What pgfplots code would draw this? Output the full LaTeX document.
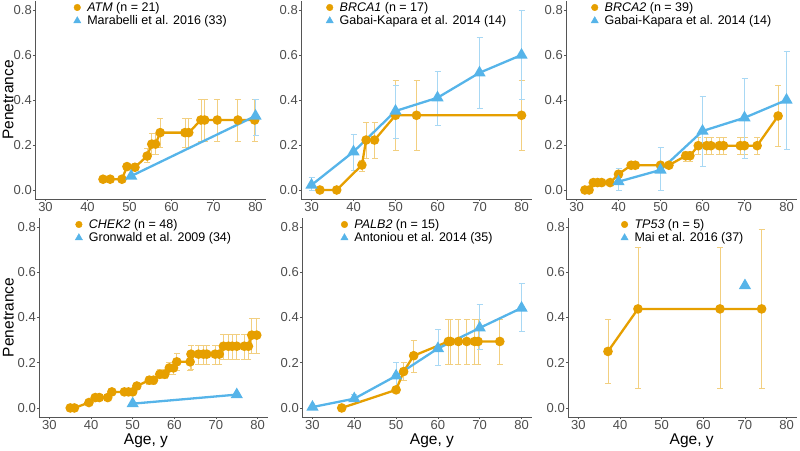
\documentclass[border=0pt]{standalone}
\usepackage{pgfplots}
\usepackage{pgfplotstable}
\pgfplotsset{compat=1.18}
\usepackage{fontspec}
\setmainfont{Liberation Sans}
\definecolor{cor}{HTML}{E69F00}
\definecolor{cbl}{HTML}{56B4E9}
\definecolor{corl}{HTML}{F2CF80}
\definecolor{cbll}{HTML}{A8D8F4}
\definecolor{tickgray}{HTML}{4D4D4D}
\definecolor{axgray}{HTML}{555555}

% ---------- data: x  y  lo  hi ----------
\pgfplotstableread{
x y lo hi
43.7 0.048 0.040 0.058
45.4 0.048 0.040 0.058
48.2 0.048 0.040 0.058
49.4 0.104 0.090 0.118
51.3 0.101 0.090 0.118
54.2 0.151 0.122 0.185
55.3 0.204 0.156 0.252
56.2 0.204 0.156 0.252
57.3 0.255 0.188 0.319
63.2 0.255 0.188 0.319
64.1 0.255 0.188 0.319
67.0 0.311 0.215 0.403
67.9 0.311 0.215 0.403
70.9 0.311 0.218 0.403
75.8 0.311 0.218 0.403
79.8 0.311 0.218 0.403
}\atmO
\pgfplotstableread{
x y lo hi
50.4 0.062 0.062 0.062
80 0.329 0.244 0.403
}\atmB
\pgfplotstableread{
x y lo hi
32 0 0 0
36 0 0 0
42 0.111 0.081 0.133
43 0.222 0.140 0.300
45 0.222 0.140 0.300
50 0.332 0.178 0.486
55 0.332 0.178 0.486
80 0.332 0.178 0.486
}\brOneO
\pgfplotstableread{
x y lo hi
30 0.022 0.000 0.055
40 0.170 0.089 0.247
50 0.351 0.230 0.467
60 0.410 0.289 0.529
70 0.521 0.363 0.677
80 0.600 0.403 0.797
}\brOneB
\pgfplotstableread{
x y lo hi
32 0 0 0
33 0 0 0
34 0.033 0.028 0.038
35 0.033 0.028 0.038
36 0.033 0.028 0.038
38 0.033 0.028 0.038
40 0.070 0.055 0.085
43 0.110 0.100 0.120
44 0.110 0.100 0.120
50 0.110 0.100 0.120
52 0.110 0.100 0.120
56 0.152 0.128 0.172
57 0.152 0.128 0.172
59 0.197 0.160 0.232
61 0.197 0.160 0.232
62 0.197 0.160 0.232
64 0.197 0.160 0.232
65 0.197 0.160 0.232
69 0.197 0.160 0.232
70 0.197 0.160 0.232
73 0.197 0.160 0.232
78 0.329 0.194 0.467
}\brTwoO
\pgfplotstableread{
x y lo hi
40 0.037 0.000 0.096
50 0.089 0.000 0.188
60 0.262 0.104 0.418
70 0.321 0.141 0.496
80 0.400 0.182 0.615
}\brTwoB
\pgfplotstableread{
x y lo hi
35 0 0 0
36 0 0 0
39.5 0.024 0.020 0.028
41 0.046 0.040 0.052
42 0.046 0.040 0.052
44 0.046 0.040 0.052
45 0.071 0.062 0.080
48 0.071 0.062 0.080
49 0.071 0.062 0.080
50 0.071 0.062 0.080
51 0.097 0.082 0.112
54 0.123 0.105 0.140
55 0.123 0.105 0.140
56.5 0.149 0.130 0.170
57.7 0.149 0.130 0.170
58.8 0.177 0.150 0.202
59.8 0.177 0.150 0.202
60.6 0.204 0.167 0.240
63.8 0.204 0.167 0.240
64 0.238 0.171 0.277
65.8 0.238 0.193 0.277
67 0.238 0.193 0.277
67.8 0.238 0.193 0.277
69.8 0.238 0.193 0.277
70.8 0.238 0.193 0.277
71.8 0.273 0.214 0.325
73 0.273 0.214 0.325
73.9 0.273 0.214 0.325
75 0.273 0.214 0.325
76.8 0.273 0.214 0.325
77.8 0.273 0.214 0.325
78.6 0.322 0.243 0.396
79.8 0.322 0.243 0.396
}\chekO
\pgfplotstableread{
x y lo hi
50 0.019 0.019 0.019
75 0.059 0.059 0.059
}\chekB
\pgfplotstableread{
x y lo hi
37 0 0 0
50 0.080 0.072 0.088
51.8 0.161 0.120 0.200
54.2 0.231 0.157 0.297
62.5 0.294 0.194 0.393
63 0.294 0.194 0.393
64.9 0.294 0.194 0.393
66.9 0.294 0.194 0.393
68.8 0.294 0.194 0.393
69.6 0.294 0.194 0.393
74.8 0.294 0.194 0.393
}\palbO
\pgfplotstableread{
x y lo hi
30 0.004 0.000 0.008
40 0.041 0.027 0.058
50 0.142 0.083 0.201
60 0.263 0.189 0.349
70 0.354 0.260 0.460
80 0.442 0.339 0.549
}\palbB
\pgfplotstableread{
x y lo hi
37.1 0.250 0.108 0.390
44.3 0.438 0.087 0.709
64 0.438 0.087 0.709
74 0.438 0.087 0.789
}\tpO
\pgfplotstableread{
x y
70 0.541
}\tpB

\pgfplotsset{
  /pgfplots/table/errtab/.style={x=x, y=y,
    y error plus expr=\thisrow{hi}-\thisrow{y},
    y error minus expr=\thisrow{y}-\thisrow{lo}},
  panel/.style={
    scale only axis, width=231pt, height=198pt,
    xmin=27.5, xmax=82.5, ymin=-0.04, ymax=0.84,
    xtick={30,40,50,60,70,80}, ytick={0,0.2,0.4,0.6,0.8},
    axis x line*=bottom, axis y line*=left,
    axis line style={axgray, line width=0.7pt, -},
    tick style={axgray, line width=0.7pt},
    tick align=outside, major tick length=2pt,
    ticklabel style={font=\fontsize{13}{14}\selectfont, text=tickgray},
    xticklabel style={inner sep=1.5pt},
    yticklabel style={inner sep=1pt, /pgf/number format/.cd, fixed, fixed zerofill, precision=1},
    /pgf/number format/assume math mode=true,
    legend style={at={(0.5,1)}, anchor=north, draw=none, fill=none,
      font=\fontsize{12.5}{13}\selectfont, inner sep=0pt, row sep=0.8pt,
      nodes={inner sep=1pt}},
    legend cell align=left,
    legend image code/.code={\path[draw=none, fill=none] (0pt,0pt) -- (13pt,0pt);\draw[mark repeat=2,mark phase=2,##1] plot coordinates {(0pt,0pt)(4pt,0pt)(8pt,0pt)};},
    label style={font=\fontsize{15.5}{16}\selectfont},
  },
  ora/.style={cor, line width=2.3pt, mark=*, mark size=3.6pt, mark options={solid}},
  blu/.style={cbl, line width=2.3pt, mark=triangle*, mark size=4.8pt, mark options={solid}},
  eor/.style={forget plot, only marks, mark=none, error bars/.cd, y dir=both, y explicit,
    error bar style={corl, line width=0.8pt},
    error mark options={corl, mark size=3pt, line width=0.8pt, rotate=90}},
  ebl/.style={forget plot, only marks, mark=none, error bars/.cd, y dir=both, y explicit,
    error bar style={cbll, line width=0.8pt},
    error mark options={cbll, mark size=3pt, line width=0.8pt, rotate=90}},
  legO/.style={only marks, mark=*, cor, mark size=3.3pt},
  legB/.style={only marks, mark=triangle*, cbl, mark size=4.2pt},
}

\begin{document}
\begin{tikzpicture}
\useasboundingbox (0pt,0pt) rectangle (800pt,450pt);

% ---------- ATM ----------
\begin{axis}[panel, at={(35pt,251pt)}, anchor=south west,
  ylabel={Penetrance}, ylabel style={at={(axis description cs:-0.116,0.5)}, anchor=center}]
\addlegendimage{legO}\addlegendentry{\textit{ATM} (n = 21)}
\addlegendimage{legB}\addlegendentry{Marabelli et al. 2016 (33)}
\addplot[eor] table[errtab] {\atmO};
\addplot[ebl] table[errtab] {\atmB};
\addplot[ora, forget plot] table[x=x,y=y] {\atmO};
\addplot[blu, forget plot] table[x=x,y=y] {\atmB};
\end{axis}

% ---------- BRCA1 ----------
\begin{axis}[panel, at={(301pt,251pt)}, anchor=south west]
\addlegendimage{legO}\addlegendentry{\textit{BRCA1} (n = 17)}
\addlegendimage{legB}\addlegendentry{Gabai-Kapara et al. 2014 (14)}
\addplot[eor] table[errtab] {\brOneO};
\addplot[ebl] table[errtab] {\brOneB};
\addplot[ora, forget plot] table[x=x,y=y] {\brOneO};
\addplot[blu, forget plot] table[x=x,y=y] {\brOneB};
\end{axis}

% ---------- BRCA2 ----------
\begin{axis}[panel, at={(566pt,251pt)}, anchor=south west]
\addlegendimage{legO}\addlegendentry{\textit{BRCA2} (n = 39)}
\addlegendimage{legB}\addlegendentry{Gabai-Kapara et al. 2014 (14)}
\addplot[eor] table[errtab] {\brTwoO};
\addplot[ebl] table[errtab] {\brTwoB};
\addplot[ora, forget plot] table[x=x,y=y] {\brTwoO};
\addplot[blu, forget plot] table[x=x,y=y] {\brTwoB};
\end{axis}

% ---------- CHEK2 ----------
\begin{axis}[panel, width=229pt, height=199pt, at={(39pt,33pt)}, anchor=south west,
  ylabel={Penetrance}, ylabel style={at={(axis description cs:-0.134,0.5)}, anchor=center},
  xlabel={Age, y}, xlabel style={at={(axis description cs:0.467,-0.118)}, anchor=center}]
\addlegendimage{legO}\addlegendentry{\textit{CHEK2} (n = 48)}
\addlegendimage{legB}\addlegendentry{Gronwald et al. 2009 (34)}
\addplot[eor] table[errtab] {\chekO};
\addplot[ora, forget plot] table[x=x,y=y] {\chekO};
\addplot[blu, forget plot] table[x=x,y=y] {\chekB};
\end{axis}

% ---------- PALB2 ----------
\begin{axis}[panel, width=230pt, height=199pt, at={(302pt,33pt)}, anchor=south west,
  xlabel={Age, y}, xlabel style={at={(axis description cs:0.565,-0.118)}, anchor=center}]
\addlegendimage{legO}\addlegendentry{\textit{PALB2} (n = 15)}
\addlegendimage{legB}\addlegendentry{Antoniou et al. 2014 (35)}
\addplot[eor] table[errtab] {\palbO};
\addplot[ebl] table[errtab] {\palbB};
\addplot[ora, forget plot] table[x=x,y=y] {\palbO};
\addplot[blu, forget plot] table[x=x,y=y] {\palbB};
\end{axis}

% ---------- TP53 ----------
\begin{axis}[panel, width=229pt, height=199pt, at={(568pt,33pt)}, anchor=south west,
  xlabel={Age, y}, xlabel style={at={(axis description cs:0.54,-0.118)}, anchor=center}]
\addlegendimage{legO}\addlegendentry{\textit{TP53} (n = 5)}
\addlegendimage{legB}\addlegendentry{Mai et al. 2016 (37)}
\addplot[eor] table[errtab] {\tpO};
\addplot[ora, forget plot] table[x=x,y=y] {\tpO};
\addplot[blu, only marks, forget plot] table[x=x,y=y] {\tpB};
\end{axis}
\end{tikzpicture}
\end{document}
